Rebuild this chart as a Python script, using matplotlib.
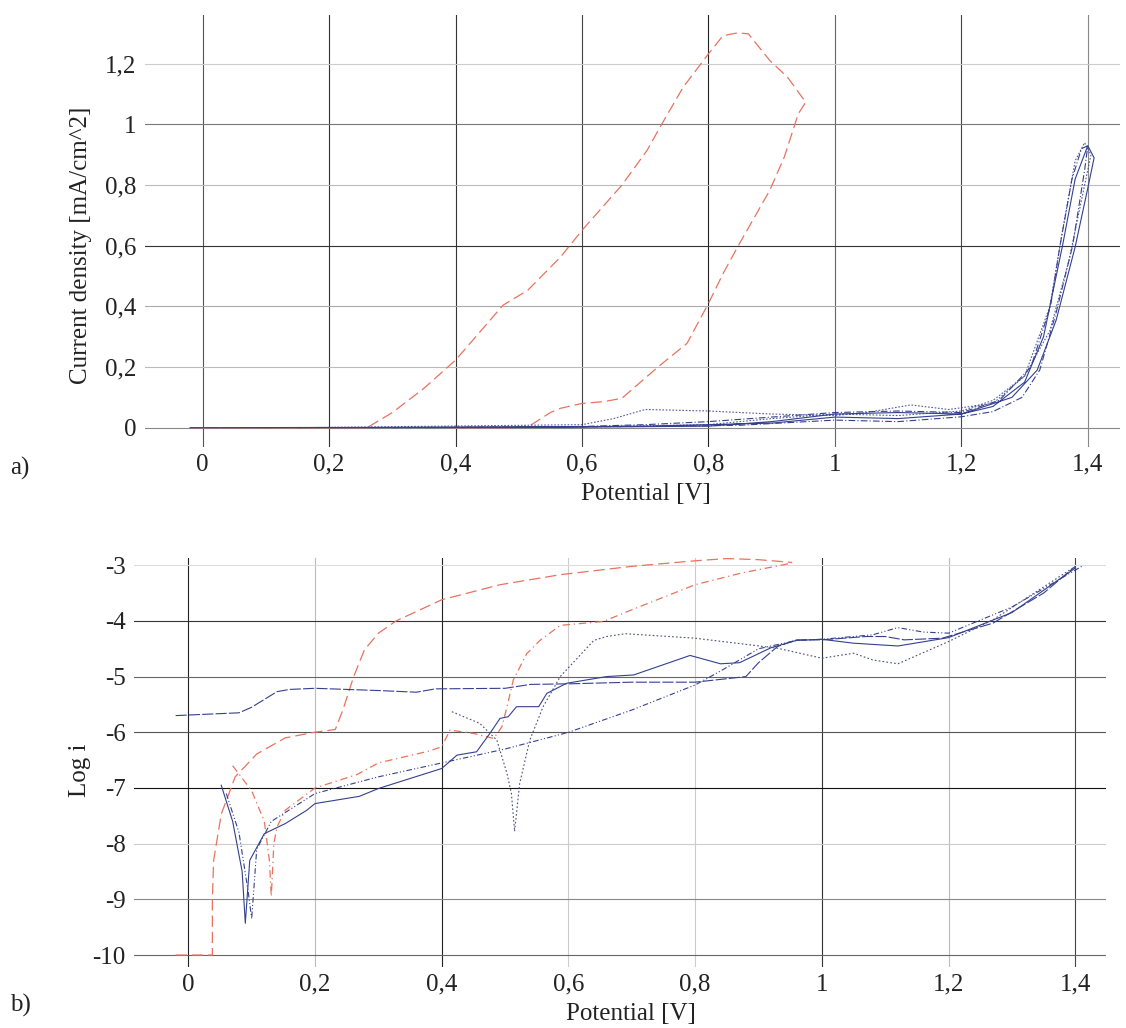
import matplotlib
matplotlib.use("Agg")
import matplotlib.pyplot as plt
from matplotlib.ticker import FuncFormatter

plt.rcParams['font.family'] = ['Liberation Serif', 'DejaVu Serif']

# ---- a) cyclic voltammetry, current density [mA/cm^2] ----
red_a_v = [-0.02, 0.20, 0.26, 0.30, 0.35, 0.40, 0.475, 0.514, 0.566, 0.60, 0.663, 0.703, 0.723,
           0.76, 0.80, 0.823, 0.846, 0.863, 0.897, 0.925, 0.948, 0.954,
           0.942, 0.92, 0.897, 0.846, 0.823, 0.80, 0.766, 0.72, 0.663, 0.635, 0.60, 0.566,
           0.55, 0.52, 0.50, 0.40]
red_a_i = [0.0, 0.0, 0.0, 0.05, 0.13, 0.223, 0.404, 0.453, 0.563, 0.651, 0.80, 0.915, 0.99,
           1.123, 1.233, 1.293, 1.302, 1.299, 1.211, 1.156, 1.09, 1.074,
           1.035, 0.893, 0.783, 0.596, 0.508, 0.41, 0.278, 0.20, 0.097, 0.086, 0.08, 0.064,
           0.05, 0.01, 0.0, 0.0]

blue1_a_v = [-0.02, 0.6, 0.8, 0.9, 1.0, 1.1, 1.2, 1.25, 1.3, 1.33, 1.36, 1.38, 1.40, 1.41,
             1.40, 1.38, 1.35, 1.32, 1.28, 1.2, 1.1, 1.0, 0.9, 0.7, 0.5, 0.2]
blue1_a_i = [0.0, 0.002, 0.005, 0.02, 0.045, 0.05, 0.045, 0.07, 0.15, 0.30, 0.60, 0.82, 0.93, 0.89,
             0.79, 0.596, 0.355, 0.19, 0.10, 0.045, 0.03, 0.035, 0.015, 0.005, 0.002, 0.0]

blue2_a_v = [0.15, 0.6, 0.65, 0.7, 0.8, 0.9, 1.0, 1.05, 1.12, 1.18, 1.25, 1.3, 1.34, 1.36, 1.38,
             1.395, 1.405, 1.39, 1.37, 1.34, 1.30, 1.25, 1.2, 1.1, 1.0, 0.9, 0.8, 0.6, 0.35]
blue2_a_i = [0.0, 0.01, 0.03, 0.06, 0.055, 0.045, 0.04, 0.05, 0.075, 0.06, 0.08, 0.17, 0.40, 0.65, 0.88,
             0.94, 0.90, 0.75, 0.55, 0.32, 0.17, 0.09, 0.055, 0.04, 0.045, 0.03, 0.01, 0.003, 0.0]

blue3_a_v = [0.3, 0.6, 0.7, 0.8, 0.9, 1.0, 1.1, 1.2, 1.26, 1.31, 1.341, 1.356, 1.375, 1.39, 1.40,
             1.395, 1.376, 1.35, 1.324, 1.296, 1.25, 1.2, 1.1, 1.0, 0.85, 0.7, 0.5]
blue3_a_i = [0.0, 0.004, 0.01, 0.02, 0.035, 0.05, 0.055, 0.05, 0.09, 0.2, 0.4, 0.6, 0.82, 0.92, 0.93,
             0.85, 0.6, 0.38, 0.19, 0.10, 0.053, 0.036, 0.02, 0.025, 0.008, 0.004, 0.002]

# ---- b) Tafel plot, log i ----
red1_b_v = [-0.02, 0.038, 0.038, 0.04, 0.052, 0.074, 0.108, 0.153, 0.199, 0.232, 0.244, 0.261,
            0.278, 0.30, 0.328, 0.40, 0.492, 0.587, 0.70, 0.80, 0.85, 0.90, 0.953]
red1_b_l = [-10.0, -10.0, -9.0, -8.3, -7.47, -6.8, -6.39, -6.1, -6.0, -5.95, -5.6, -5.0,
            -4.52, -4.22, -4.0, -3.62, -3.35, -3.17, -3.02, -2.92, -2.88, -2.9, -2.95]

red2_b_v = [0.07, 0.10, 0.12, 0.128, 0.131, 0.135, 0.14, 0.153, 0.20, 0.266, 0.30, 0.379, 0.40,
            0.413, 0.45, 0.482, 0.495, 0.503, 0.513, 0.534, 0.555, 0.587, 0.655, 0.70, 0.80,
            0.873, 0.953]
red2_b_l = [-6.6, -7.05, -7.6, -8.3, -8.95, -8.0, -7.7, -7.4, -7.0, -6.76, -6.55, -6.34, -6.26,
            -5.96, -6.02, -6.11, -5.9, -5.54, -5.06, -4.59, -4.35, -4.08, -4.01, -3.8, -3.35,
            -3.14, -2.96]

blue1_b_v = [-0.02, 0.08, 0.10, 0.14, 0.16, 0.20, 0.30, 0.36, 0.39, 0.50, 0.54, 0.60, 0.70, 0.80,
             0.88, 0.90, 0.93, 0.96, 1.0, 1.07, 1.10, 1.13, 1.19, 1.27, 1.35, 1.40]
blue1_b_l = [-5.7, -5.65, -5.55, -5.27, -5.23, -5.21, -5.25, -5.28, -5.22, -5.21, -5.14, -5.13,
             -5.1, -5.1, -5.0, -4.75, -4.46, -4.34, -4.34, -4.28, -4.28, -4.34, -4.31, -4.04,
             -3.5, -3.02]

blue2_b_v = [0.052, 0.07, 0.085, 0.09, 0.097, 0.12, 0.153, 0.187, 0.20, 0.27, 0.30, 0.40, 0.424,
             0.455, 0.476, 0.492, 0.505, 0.518, 0.553, 0.566, 0.597, 0.66, 0.703, 0.792, 0.84,
             0.87, 0.92, 0.96, 1.0, 1.05, 1.12, 1.20, 1.30, 1.40]
blue2_b_l = [-6.95, -7.6, -8.5, -9.43, -8.3, -7.82, -7.64, -7.4, -7.28, -7.15, -7.01, -6.65, -6.41,
             -6.35, -6.02, -5.75, -5.72, -5.54, -5.54, -5.3, -5.12, -5.0, -4.97, -4.62, -4.77,
             -4.75, -4.48, -4.35, -4.33, -4.4, -4.45, -4.3, -3.85, -3.05]

blue3_b_v = [0.06, 0.08, 0.095, 0.10, 0.108, 0.131, 0.20, 0.30, 0.40, 0.50, 0.60, 0.70, 0.80,
             0.84, 0.90, 0.96, 1.0, 1.08, 1.12, 1.16, 1.20, 1.30, 1.41]
blue3_b_l = [-7.1, -7.8, -8.9, -9.35, -8.1, -7.6, -7.1, -6.8, -6.55, -6.3, -6.0, -5.6, -5.15,
             -4.9, -4.5, -4.35, -4.33, -4.25, -4.12, -4.2, -4.22, -3.75, -3.02]

blue4_b_v = [0.416, 0.46, 0.487, 0.503, 0.51, 0.515, 0.523, 0.539, 0.56, 0.587, 0.64, 0.66, 0.69,
             0.80, 0.93, 1.0, 1.05, 1.08, 1.12, 1.20, 1.27, 1.40]
blue4_b_l = [-5.63, -5.84, -6.14, -6.74, -7.1, -7.78, -6.92, -6.14, -5.54, -5.0, -4.35, -4.28, -4.23,
             -4.31, -4.49, -4.67, -4.58, -4.7, -4.77, -4.37, -3.98, -3.02]

xticks = [0, 0.2, 0.4, 0.6, 0.8, 1.0, 1.2, 1.4]
yticks_a = [0, 0.2, 0.4, 0.6, 0.8, 1.0, 1.2]
yticks_b = [-10, -9, -8, -7, -6, -5, -4, -3]

# grid shades as seen in the figure
vgrid_a = ['#555555', '#333333', '#333333', '#444444', '#222222', '#666666', '#444444', '#888888']
hgrid_a = ['#888888', '#bbbbbb', '#aaaaaa', '#333333', '#bbbbbb', '#777777', '#cccccc']
vgrid_b = ['#222222', '#bbbbbb', '#222222', '#cccccc', '#cccccc', '#333333', '#bbbbbb', '#444444']
hgrid_b = ['#666666', '#888888', '#cccccc', '#111111', '#555555', '#666666', '#333333', '#dddddd']

RED = '#e8735f'
BLUE = '#34408f'
TXT = '#222222'


def comma(v, pos):
    s = '{:g}'.format(round(v, 2))
    return s.replace('.', ',')


def style(ax, yticks, vcols, hcols):
    for s in ax.spines.values():
        s.set_visible(False)
    for x, c in zip(xticks, vcols):
        ax.axvline(x, color=c, lw=0.8, zorder=0)
    for y, c in zip(yticks, hcols):
        ax.axhline(y, color=c, lw=0.8, zorder=0)
    ax.set_xticks(xticks)
    ax.set_yticks(yticks)
    ax.xaxis.set_major_formatter(FuncFormatter(comma))
    ax.yaxis.set_major_formatter(FuncFormatter(comma))
    ax.tick_params(length=0, labelsize=18, colors=TXT)
    ax.tick_params(axis='x', pad=5)
    ax.tick_params(axis='y', pad=6)


def labels(ax, xl, yl, xpos, ypos):
    ax.set_xlabel(xl, fontsize=18, color=TXT)
    ax.set_ylabel(yl, fontsize=18, color=TXT)
    ax.xaxis.set_label_coords(*xpos)
    ax.yaxis.set_label_coords(*ypos)
    ax.xaxis.label.set_verticalalignment('center')
    ax.yaxis.label.set_verticalalignment('center')


fig = plt.figure(figsize=(11.26, 10.28), dpi=100)

ax1 = fig.add_axes([0.1284, 0.5655, 0.8663, 0.4199])
ax1.set_xlim(-0.092, 1.451)
ax1.set_ylim(-0.0626, 1.361)
style(ax1, yticks_a, vgrid_a, hgrid_a)
ax1.plot(red_a_v, red_a_i, color=RED, lw=0.9, ls=(0, (9, 4)))
ax1.plot(blue1_a_v, blue1_a_i, color=BLUE, lw=0.8, ls='-')
ax1.plot(blue2_a_v, blue2_a_i, color=BLUE, lw=0.8, ls=(0, (1.5, 1.5)), alpha=0.85)
ax1.plot(blue3_a_v, blue3_a_i, color=BLUE, lw=0.8, ls=(0, (6, 2, 1, 2)))
labels(ax1, 'Potential [V]', 'Current density [mA/cm^2]', (0.514, -0.11), (-0.065, 0.467))

ax2 = fig.add_axes([0.119, 0.0596, 0.863, 0.3976])
ax2.set_xlim(-0.0857, 1.448)
ax2.set_ylim(-10.21, -2.87)
style(ax2, yticks_b, vgrid_b, hgrid_b)
ax2.plot(red1_b_v, red1_b_l, color=RED, lw=0.9, ls=(0, (9, 4)))
ax2.plot(red2_b_v, red2_b_l, color=RED, lw=0.9, ls=(0, (6, 3, 1, 3)))
ax2.plot(blue1_b_v, blue1_b_l, color=BLUE, lw=0.8, ls=(0, (10, 2)))
ax2.plot(blue2_b_v, blue2_b_l, color=BLUE, lw=0.8, ls='-')
ax2.plot(blue3_b_v, blue3_b_l, color=BLUE, lw=0.8, ls=(0, (5, 2, 1, 2, 1, 2)))
ax2.plot(blue4_b_v, blue4_b_l, color='#4a4f7a', lw=0.8, ls=(0, (1.5, 2)))
labels(ax2, 'Potential [V]', 'Log i', (0.511, -0.116), (-0.0556, 0.481))

fig.text(0.0178, 0.5447, 'a)', fontsize=18, color=TXT, ha='center', va='center')
fig.text(0.0178, 0.0224, 'b)', fontsize=18, color=TXT, ha='center', va='center')

fig.savefig('out.png', dpi=100, facecolor='white')
